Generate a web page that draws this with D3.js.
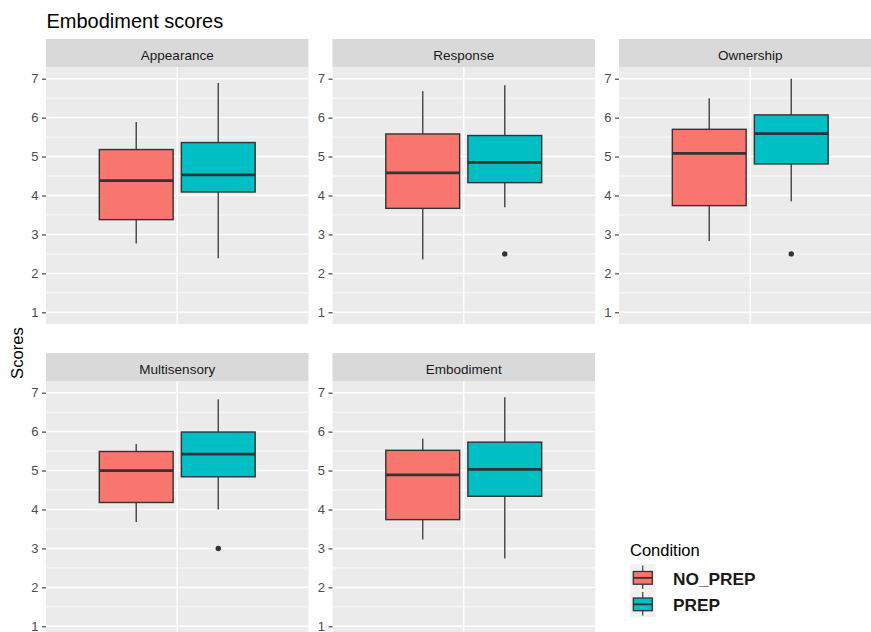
<!DOCTYPE html>
<html>
<head>
<meta charset="utf-8">
<script src="https://cdn.jsdelivr.net/npm/d3@7"></script>
<style>
  html, body { margin: 0; padding: 0; background: #ffffff; }
  svg { display: block; font-family: "Liberation Sans", Arial, sans-serif; }
</style>
</head>
<body>
<svg id="chart" width="871" height="632"></svg>
<script>
// ---------- data ----------
const facets = ["Appearance", "Response", "Ownership", "Multisensory", "Embodiment"];
const conditions = ["NO_PREP", "PREP"];
const conditionColors = ["#F8766D", "#00BFC4"];
const yTicks = [1, 2, 3, 4, 5, 6, 7];
const yMinorTicks = [1.5, 2.5, 3.5, 4.5, 5.5, 6.5];

const noPrepLowerWhisker = [2.77, 2.36, 2.83, 3.68, 3.23];
const noPrepQ1           = [3.38, 3.67, 3.74, 4.18, 3.74];
const noPrepMedian       = [4.38, 4.58, 5.08, 5.00, 4.89];
const noPrepQ3           = [5.18, 5.58, 5.70, 5.49, 5.52];
const noPrepUpperWhisker = [5.89, 6.68, 6.50, 5.68, 5.82];
const noPrepOutliers     = [[], [], [], [], []];

const prepLowerWhisker = [2.39, 3.70, 3.85, 4.00, 2.74];
const prepQ1           = [4.09, 4.33, 4.81, 4.84, 4.34];
const prepMedian       = [4.53, 4.85, 5.59, 5.42, 5.03];
const prepQ3           = [5.36, 5.54, 6.07, 5.99, 5.73];
const prepUpperWhisker = [6.89, 6.83, 7.00, 6.83, 6.88];
const prepOutliers     = [[], [2.5], [2.5], [3.0], []];

const seriesStats = [
  { lo: noPrepLowerWhisker, q1: noPrepQ1, med: noPrepMedian, q3: noPrepQ3, hi: noPrepUpperWhisker, out: noPrepOutliers },
  { lo: prepLowerWhisker,   q1: prepQ1,   med: prepMedian,   q3: prepQ3,   hi: prepUpperWhisker,   out: prepOutliers }
];

// ---------- layout ----------
const svg = d3.select("#chart");
const colX = [46, 332.5, 619];
const panelW = 262.5;
const stripTop = [39, 353];
const stripH = 28;
const panelH = 257;

const x = d3.scaleLinear().domain([0.4, 1.6]).range([0, panelW]);
const dodge = [-0.1875, 0.1875];
const boxW = 0.3375;

// title
svg.append("text").attr("x", 46.5).attr("y", 28.3)
  .attr("font-size", 20).attr("fill", "#000").text("Embodiment scores");

// y-axis title
svg.append("text")
  .attr("transform", "translate(23,353) rotate(-90)")
  .attr("text-anchor", "middle").attr("font-size", 16.7).attr("fill", "#000")
  .text("Scores");

facets.forEach((facet, i) => {
  const row = Math.floor(i / 3), col = i % 3;
  const px = colX[col];
  const sTop = stripTop[row];
  const pTop = sTop + stripH;
  const y = d3.scaleLinear().domain([0.7, 7.3]).range([pTop + panelH, pTop]);
  const g = svg.append("g");

  // strip
  g.append("rect").attr("x", px).attr("y", sTop).attr("width", panelW).attr("height", stripH)
    .attr("fill", "#D9D9D9");
  g.append("text").attr("x", px + panelW / 2).attr("y", sTop + 20.5)
    .attr("text-anchor", "middle").attr("font-size", 13.5).attr("fill", "#1A1A1A").text(facet);

  // panel background
  g.append("rect").attr("x", px).attr("y", pTop).attr("width", panelW).attr("height", panelH)
    .attr("fill", "#EBEBEB");

  // grid
  g.selectAll(".minor").data(yMinorTicks).enter().append("line")
    .attr("x1", px).attr("x2", px + panelW)
    .attr("y1", d => y(d)).attr("y2", d => y(d))
    .attr("stroke", "#fff").attr("stroke-width", 0.8);
  g.selectAll(".major").data(yTicks).enter().append("line")
    .attr("x1", px).attr("x2", px + panelW)
    .attr("y1", d => y(d)).attr("y2", d => y(d))
    .attr("stroke", "#fff").attr("stroke-width", 1.5);
  g.append("line").attr("x1", px + x(1)).attr("x2", px + x(1))
    .attr("y1", pTop).attr("y2", pTop + panelH)
    .attr("stroke", "#fff").attr("stroke-width", 1.5);

  // y axis
  const axis = d3.axisLeft(y).tickValues(yTicks).tickSize(4).tickPadding(3.5).tickFormat(d3.format("d"));
  const ax = g.append("g").attr("transform", `translate(${px},0)`).call(axis);
  ax.select(".domain").remove();
  ax.selectAll(".tick line").attr("stroke", "#333333").attr("stroke-width", 1.1);
  ax.selectAll(".tick text").attr("fill", "#4D4D4D").attr("font-size", 13)
    .attr("font-family", "Liberation Sans, Arial, sans-serif");

  // boxes
  conditions.forEach((c, k) => {
    const s = seriesStats[k];
    const cx = px + x(1 + dodge[k]);
    const x0 = px + x(1 + dodge[k] - boxW / 2);
    const x1 = px + x(1 + dodge[k] + boxW / 2);
    const bg = g.append("g");
    bg.append("line").attr("x1", cx).attr("x2", cx).attr("y1", y(s.hi[i])).attr("y2", y(s.q3[i]))
      .attr("stroke", "#4D4D4D").attr("stroke-width", 1.5);
    bg.append("line").attr("x1", cx).attr("x2", cx).attr("y1", y(s.q1[i])).attr("y2", y(s.lo[i]))
      .attr("stroke", "#4D4D4D").attr("stroke-width", 1.5);
    bg.append("rect").attr("x", x0).attr("y", y(s.q3[i])).attr("width", x1 - x0)
      .attr("height", y(s.q1[i]) - y(s.q3[i]))
      .attr("fill", conditionColors[k]).attr("stroke", "#333333").attr("stroke-width", 1.4);
    bg.append("line").attr("x1", x0).attr("x2", x1).attr("y1", y(s.med[i])).attr("y2", y(s.med[i]))
      .attr("stroke", "#333333").attr("stroke-width", 2.8);
    bg.selectAll("circle").data(s.out[i]).enter().append("circle")
      .attr("cx", cx).attr("cy", d => y(d)).attr("r", 2.7).attr("fill", "#333333");
  });
});

// legend
const lg = svg.append("g");
lg.append("text").attr("x", 630).attr("y", 555.7).attr("font-size", 16.5).attr("fill", "#000").text("Condition");
const keyY = [564, 590.5];
conditions.forEach((c, k) => {
  const ky = keyY[k];
  lg.append("rect").attr("x", 630).attr("y", ky).attr("width", 25.5).attr("height", 26.5).attr("fill", "#F2F2F2");
  lg.append("line").attr("x1", 642.7).attr("x2", 642.7).attr("y1", ky + 1.5).attr("y2", ky + 25)
    .attr("stroke", "#4D4D4D").attr("stroke-width", 1.3);
  lg.append("rect").attr("x", 633.3).attr("y", ky + 7.5).attr("width", 19).attr("height", 12.7)
    .attr("fill", conditionColors[k]).attr("stroke", "#333333").attr("stroke-width", 1.3);
  lg.append("line").attr("x1", 633.3).attr("x2", 652.3).attr("y1", ky + 13.85).attr("y2", ky + 13.85)
    .attr("stroke", "#333333").attr("stroke-width", 1.8);
  lg.append("text").attr("x", 673).attr("y", ky + 20.5).attr("font-size", 17.3).attr("font-weight", "bold")
    .attr("fill", "#1A1A1A").text(c);
});
</script>
</body>
</html>
